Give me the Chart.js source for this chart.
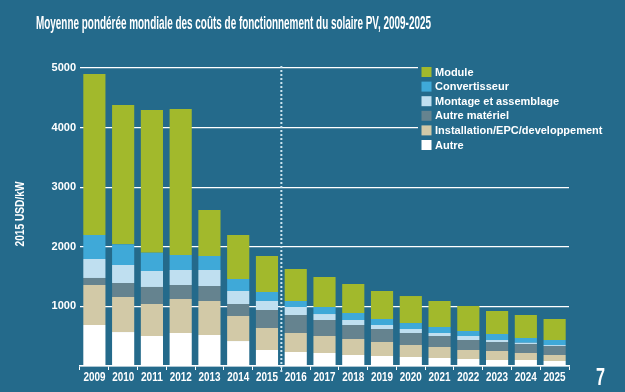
<!DOCTYPE html>
<html>
<head>
<meta charset="utf-8">
<script src="https://cdn.jsdelivr.net/npm/chart.js@4.4.1/dist/chart.umd.min.js"></script>
<style>
  html, body { margin: 0; padding: 0; background: #246a8b; }
  #wrap { width: 625px; height: 392px; position: relative; }
</style>
</head>
<body>
<div id="wrap"><canvas id="c"></canvas></div>
<script>
// ---- Data (USD 2015 / kW) ----
const years = ['2009','2010','2011','2012','2013','2014','2015','2016','2017','2018','2019','2020','2021','2022','2023','2024','2025'];
const autre         = [688, 570, 503, 554, 520, 419, 268, 235, 218, 185, 168, 151, 134, 117, 101, 101, 84];
const installation  = [671, 588, 537, 570, 571, 420, 370, 319, 285, 268, 235, 201, 185, 151, 151, 117, 101];
const autreMateriel = [118, 235, 286, 235, 251, 201, 302, 302, 269, 235, 218, 202, 184, 168, 151, 151, 151];
const montage       = [318, 302, 268, 252, 269, 218, 151, 134, 100, 84, 67, 67, 51, 67, 33, 22, 16];
const convertisseur = [403, 347, 307, 251, 235, 202, 151, 101, 118, 117, 101, 100, 100, 84, 101, 79, 84];
const module_       = [2701, 2337, 2394, 2450, 771, 738, 604, 537, 503, 487, 469, 453, 437, 420, 386, 386, 353];
const yTicks = [1000, 2000, 3000, 4000, 5000];

const titleText = 'Moyenne pondérée mondiale des coûts de fonctionnement du solaire PV, 2009-2025';
const yTitleText = '2015 USD/kW';
const pageNumber = '7';

const BG = '#246a8b';
const colors = {
  module: '#a2b92c',
  conv: '#3fa9d8',
  montage: '#bfdff0',
  autreMat: '#65838f',
  install: '#d2c9a7',
  autre: '#ffffff'
};

const datasets = [
  { label: 'Autre', data: autre, backgroundColor: colors.autre },
  { label: 'Installation/EPC/developpement', data: installation, backgroundColor: colors.install },
  { label: 'Autre matériel', data: autreMateriel, backgroundColor: colors.autreMat },
  { label: 'Montage et assemblage', data: montage, backgroundColor: colors.montage },
  { label: 'Convertisseur', data: convertisseur, backgroundColor: colors.conv },
  { label: 'Module', data: module_, backgroundColor: colors.module }
].map(d => Object.assign(d, { borderWidth: 0, categoryPercentage: 1, barPercentage: 0.77 }));

const sansBold = '"Liberation Sans", Arial, sans-serif';

function fitText(ctx, text, x, y, targetW, font, align) {
  ctx.save();
  ctx.font = font;
  const w = ctx.measureText(text).width;
  const sx = Math.min(1.2, targetW / w);
  ctx.translate(x, y);
  ctx.scale(sx, 1);
  ctx.textAlign = align || 'left';
  ctx.textBaseline = 'middle';
  ctx.fillText(text, 0, 0);
  ctx.restore();
}

const decor = {
  id: 'decor',
  beforeDraw(chart) {
    const ctx = chart.ctx;
    ctx.save();
    ctx.fillStyle = BG;
    ctx.fillRect(0, 0, chart.width, chart.height);
    ctx.restore();
  },
  afterDraw(chart) {
    const ctx = chart.ctx;
    const xs = chart.scales.x;

    // x-axis category labels (condensed), placed from the category scale
    ctx.save();
    ctx.fillStyle = '#ffffff';
    years.forEach((lab, i) => {
      fitText(ctx, lab, xs.getPixelForValue(i), 377.5, 22, 'bold 12.5px ' + sansBold, 'center');
    });
    ctx.restore();

    // dotted separator between 2015 and 2016
    const xm = (xs.getPixelForValue(6) + xs.getPixelForValue(7)) / 2;
    ctx.save();
    ctx.strokeStyle = '#cde4ee';
    ctx.lineWidth = 2;
    ctx.setLineDash([2, 2]);
    ctx.beginPath();
    ctx.moveTo(xm, 66);
    ctx.lineTo(xm, 374);
    ctx.stroke();
    ctx.restore();

    // legend (opaque block over gridlines)
    ctx.save();
    ctx.fillStyle = BG;
    ctx.fillRect(418, 60, 207, 93);
    const items = [...datasets].reverse();
    ctx.font = 'bold 11px ' + sansBold;
    ctx.textBaseline = 'middle';
    items.forEach((d, i) => {
      const cy = 72 + i * 14.6;
      ctx.fillStyle = d.backgroundColor;
      ctx.fillRect(421.5, cy - 5, 10, 10);
      ctx.fillStyle = '#ffffff';
      ctx.fillText(d.label, 435, cy + 0.5);
    });
    ctx.restore();

    // title
    ctx.save();
    ctx.fillStyle = '#ffffff';
    fitText(ctx, titleText, 36, 24, 395, 'bold 19px ' + sansBold, 'left');
    ctx.restore();

    // y axis title (rotated)
    ctx.save();
    ctx.fillStyle = '#ffffff';
    ctx.translate(21, 214);
    ctx.rotate(-Math.PI / 2);
    fitText(ctx, yTitleText, 0, 0, 65, 'bold 12.5px ' + sansBold, 'center');
    ctx.restore();

    // page number
    ctx.save();
    ctx.fillStyle = '#ffffff';
    fitText(ctx, pageNumber, 600.5, 378, 9, 'bold 24px ' + sansBold, 'center');
    ctx.restore();
  }
};

new Chart(document.getElementById('c'), {
  type: 'bar',
  data: { labels: years, datasets },
  options: {
    responsive: true,
    maintainAspectRatio: false,
    animation: false,
    layout: { padding: { top: 68, right: 56, left: 0, bottom: 0 } },
    plugins: { legend: { display: false }, title: { display: false }, tooltip: { enabled: false } },
    scales: {
      x: {
        stacked: true,
        offset: true,
        grid: { display: true, drawOnChartArea: false, drawTicks: true, tickLength: 4, color: '#ffffff', lineWidth: 1, offset: true },
        border: { display: true, color: '#ffffff', width: 1.5 },
        ticks: { display: false, autoSkip: false },
        afterFit(s) { s.height = 26; }
      },
      y: {
        stacked: true,
        min: 0,
        max: 5000,
        afterBuildTicks(s) { s.ticks = [0].concat(yTicks).map(v => ({ value: v })); },
        grid: { display: true, drawTicks: false, color: '#ffffff', lineWidth: 1.2 },
        border: { display: false },
        ticks: {
          color: '#ffffff',
          font: { family: sansBold, size: 11, weight: 'bold' },
          padding: 4,
          callback: (v) => v === 0 ? '' : String(v)
        },
        afterFit(s) { s.width = 80; }
      }
    }
  },
  plugins: [decor]
});
</script>
</body>
</html>
